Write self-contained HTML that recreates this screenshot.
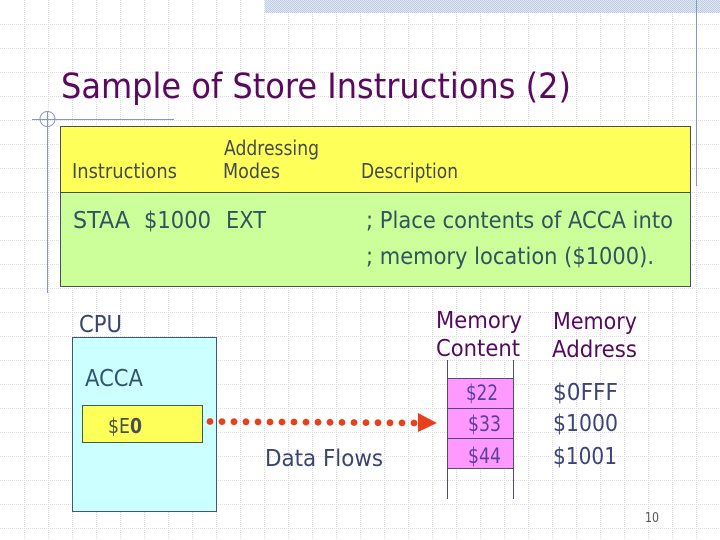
<!DOCTYPE html>
<html><head><meta charset="utf-8"><style>
html,body{margin:0;padding:0;background:#fff}
svg{display:block}
text{font-family:"DejaVu Sans","Liberation Sans",sans-serif}
</style></head><body>
<svg xmlns="http://www.w3.org/2000/svg" width="720" height="540" viewBox="0 0 720 540">
<defs>
<pattern id="b" width="2" height="2" patternUnits="userSpaceOnUse">
<rect width="2" height="2" fill="#e4eaf4"/><rect width="1" height="1" fill="#bccbe2"/><rect x="1" y="1" width="1" height="1" fill="#bccbe2"/>
</pattern>
</defs>
<rect width="720" height="540" fill="#fff"/>
<g stroke="#dedede" stroke-width="1" stroke-dasharray="1 1" fill="none">
<path d="M24.5 0V540M48.5 0V540M72.5 0V540M96.5 0V540M120.5 0V540M144.5 0V540M168.5 0V540M192.5 0V540M216.5 0V540M240.5 0V540M264.5 0V540M288.5 0V540M312.5 0V540M336.5 0V540M360.5 0V540M384.5 0V540M408.5 0V540M432.5 0V540M456.5 0V540M480.5 0V540M504.5 0V540M528.5 0V540M552.5 0V540M576.5 0V540M600.5 0V540M624.5 0V540M648.5 0V540M672.5 0V540M696.5 0V540"/>
<path d="M0 24.5H720M0 48.5H720M0 72.5H720M0 96.5H720M0 120.5H720M0 144.5H720M0 168.5H720M0 192.5H720M0 216.5H720M0 240.5H720M0 264.5H720M0 288.5H720M0 312.5H720M0 336.5H720M0 360.5H720M0 384.5H720M0 408.5H720M0 432.5H720M0 456.5H720M0 480.5H720M0 504.5H720M0 528.5H720"/>
</g>
<rect x="265" y="0" width="455" height="13" fill="url(#b)"/>
<path d="M696.5 0V186" stroke="#8496c4" stroke-width="1"/>
<path d="M32 119.5H174M47.5 111V293" stroke="#8496c4" stroke-width="1" fill="none"/>
<circle cx="47.5" cy="119" r="7.5" fill="none" stroke="#8496c4" stroke-width="1"/>

<text x="61" y="98" font-size="35" fill="#5a0a5e" textLength="510" lengthAdjust="spacingAndGlyphs">Sample of Store Instructions (2)</text>

<rect x="60.5" y="126.5" width="630" height="66" fill="#ffff5a" stroke="#4a4f55"/>
<rect x="60.5" y="192.5" width="630" height="94" fill="#ccff99" stroke="#4a4f55"/>
<g font-size="20" fill="#454a50">
<text x="72" y="178" textLength="105" lengthAdjust="spacingAndGlyphs">Instructions</text>
<text x="224" y="155" textLength="95" lengthAdjust="spacingAndGlyphs">Addressing</text>
<text x="223" y="178" textLength="57" lengthAdjust="spacingAndGlyphs">Modes</text>
<text x="361" y="178" textLength="97" lengthAdjust="spacingAndGlyphs">Description</text>
</g>
<g font-size="23" fill="#2f5560">
<text x="73" y="228" textLength="57" lengthAdjust="spacingAndGlyphs">STAA</text>
<text x="144" y="228" textLength="67" lengthAdjust="spacingAndGlyphs">$1000</text>
<text x="226" y="228" textLength="40" lengthAdjust="spacingAndGlyphs">EXT</text>
<text x="366" y="228" textLength="307" lengthAdjust="spacingAndGlyphs">; Place contents of ACCA into</text>
<text x="366" y="264" textLength="288" lengthAdjust="spacingAndGlyphs">; memory location ($1000).</text>
</g>

<text x="79" y="332" font-size="23" fill="#3a4470" textLength="43" lengthAdjust="spacingAndGlyphs">CPU</text>
<rect x="72.5" y="337.5" width="144" height="174" fill="#ccffff" stroke="#3f5a6e"/>
<text x="85" y="386" font-size="23" fill="#2f5570" textLength="58" lengthAdjust="spacingAndGlyphs">ACCA</text>
<rect x="82.5" y="405.5" width="120" height="37" fill="#ffff5a" stroke="#3f5a5e"/>
<text x="108" y="433" font-size="20" fill="#4a4f55" textLength="34" lengthAdjust="spacingAndGlyphs">$E<tspan font-weight="bold">0</tspan></text>

<g fill="#e8401c">
<circle cx="210" cy="421.5" r="3.4"/><circle cx="222" cy="421.6" r="3.4"/><circle cx="234" cy="421.7" r="3.4"/><circle cx="246" cy="421.8" r="3.4"/><circle cx="258" cy="421.9" r="3.4"/><circle cx="270" cy="422" r="3.4"/><circle cx="282" cy="422" r="3.4"/><circle cx="294" cy="422" r="3.4"/><circle cx="306" cy="422.1" r="3.4"/><circle cx="318" cy="422.2" r="3.4"/><circle cx="330" cy="422.3" r="3.4"/><circle cx="342" cy="422.4" r="3.4"/><circle cx="354" cy="422.5" r="3.4"/><circle cx="366" cy="422.6" r="3.4"/><circle cx="378" cy="422.7" r="3.4"/><circle cx="390" cy="422.8" r="3.4"/><circle cx="402" cy="422.9" r="3.4"/><circle cx="414" cy="423" r="3.4"/>
<polygon points="418,413 437,423 418,432"/>
</g>
<text x="265" y="466" font-size="23" fill="#3a4470" textLength="118" lengthAdjust="spacingAndGlyphs">Data Flows</text>

<g font-size="23" fill="#550a5e">
<text x="436" y="328" textLength="86" lengthAdjust="spacingAndGlyphs">Memory</text>
<text x="436" y="356" textLength="84" lengthAdjust="spacingAndGlyphs">Content</text>
<text x="553" y="329" textLength="84" lengthAdjust="spacingAndGlyphs">Memory</text>
<text x="552" y="357" textLength="85" lengthAdjust="spacingAndGlyphs">Address</text>
</g>
<rect x="447.5" y="378.5" width="66" height="90" fill="#ff99ff"/>
<path d="M447.5 360V499M513.5 360V499M447 378.5H514M447 408.5H514M447 438.5H514M447 468.5H514" stroke="#4f4a78" stroke-width="1" fill="none"/>
<g font-size="21" fill="#5a3fa0">
<text x="466" y="400" textLength="32" lengthAdjust="spacingAndGlyphs">$22</text>
<text x="468" y="431" textLength="33" lengthAdjust="spacingAndGlyphs">$33</text>
<text x="468" y="463" textLength="33" lengthAdjust="spacingAndGlyphs">$44</text>
</g>
<g font-size="23" fill="#3f4478">
<text x="553" y="400" textLength="65" lengthAdjust="spacingAndGlyphs">$0FFF</text>
<text x="553" y="431" textLength="65" lengthAdjust="spacingAndGlyphs">$1000</text>
<text x="553" y="464" textLength="64" lengthAdjust="spacingAndGlyphs">$1001</text>
</g>
<text x="645" y="522" font-size="13" fill="#555" textLength="14" lengthAdjust="spacingAndGlyphs">10</text>
</svg>
</body></html>
